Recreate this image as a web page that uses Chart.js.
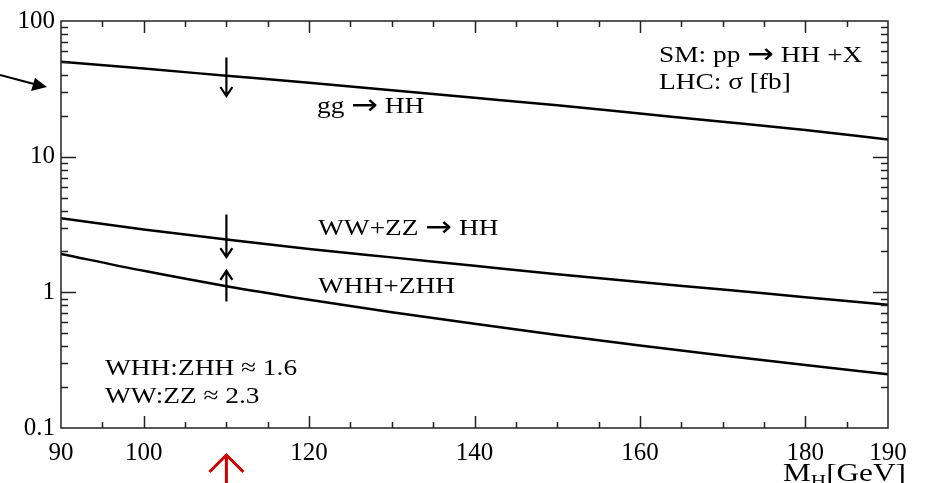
<!DOCTYPE html>
<html>
<head>
<meta charset="utf-8">
<script src="https://cdn.jsdelivr.net/npm/chart.js@4.4.0/dist/chart.umd.min.js"></script>
<style>
  html, body { margin: 0; padding: 0; background: #fff; }
  #wrap { width: 952px; height: 483px; position: relative; }
  canvas { display: block; }
</style>
</head>
<body>
<div id="wrap"><canvas id="c" width="952" height="483"></canvas></div>
<script>
// ---- data ----
const massGeV    = [90, 100, 110, 120, 130, 140, 150, 160, 170, 180, 190];
const ggToHH     = [50.1, 44.6, 39.5, 35.0, 30.9, 27.2, 23.9, 20.8, 18.1, 15.7, 13.4];
const wwZzToHH   = [3.52, 2.90, 2.45, 2.09, 1.81, 1.57, 1.36, 1.19, 1.05, 0.92, 0.81];
const whhZhh     = [1.92, 1.44, 1.11, 0.883, 0.714, 0.586, 0.485, 0.406, 0.342, 0.291, 0.249];
const xTickLabels = [90, 100, 120, 140, 160, 180, 190];
const yTickLabels = [0.1, 1, 10, 100];
const markedMass = 110;
// arrow ends at markedMass (cross-section values)
const ggArrow  = [53.8, 28];
const wwArrow  = [3.74, 1.82];
const whhArrow = [0.855, 1.44];

const SERIF = '"Liberation Serif", "Times New Roman", serif';
const ARROWFONT = '"DejaVu Sans", sans-serif';
const toXY = (ys) => massGeV.map((m, i) => ({ x: m, y: ys[i] }));

// draw a row of text segments, horizontally stretched by sx
function rich(ctx, segs, x, y, size, sx) {
  ctx.save();
  ctx.translate(x, y);
  ctx.scale(sx, 1);
  let cx = 0;
  for (const s of segs) {
    const sz = s.size || size;
    ctx.font = sz + 'px ' + (s.arrow ? ARROWFONT : SERIF);
    ctx.fillText(s.t, cx, s.dy || 0);
    cx += ctx.measureText(s.t).width;
  }
  ctx.restore();
}
const T = (t) => ({ t });
const ARR = { t: '\u2192', arrow: true, size: 28, dy: 1 };

const frame = {
  id: 'frame',
  afterDraw(chart) {
    const { ctx, chartArea: a, scales: { x, y } } = chart;
    ctx.save();
    ctx.strokeStyle = '#222';
    ctx.lineWidth = 1.5;
    ctx.strokeRect(a.left, a.top, a.right - a.left, a.bottom - a.top);
    ctx.beginPath();
    for (let v = 95; v < 190; v += 5) {
      const px = Math.round(x.getPixelForValue(v)) + 0.5;
      const len = (v % 20 === 0) ? 12 : 6;
      ctx.moveTo(px, a.bottom); ctx.lineTo(px, a.bottom - len);
      ctx.moveTo(px, a.top); ctx.lineTo(px, a.top + len);
    }
    for (const d of [0.1, 1, 10]) {
      for (let m = 1; m <= 9; m++) {
        const v = d * m;
        if (v <= 0.1) continue;
        const py = Math.round(y.getPixelForValue(v)) + 0.5;
        const len = (m === 1) ? 15 : 7;
        ctx.moveTo(a.left, py); ctx.lineTo(a.left + len, py);
        ctx.moveTo(a.right, py); ctx.lineTo(a.right - len, py);
      }
    }
    for (let m = 2; m <= 9; m++) {
      const py = Math.round(y.getPixelForValue(10 * m)) + 0.5;
      ctx.moveTo(a.left, py); ctx.lineTo(a.left + 7, py);
      ctx.moveTo(a.right, py); ctx.lineTo(a.right - 7, py);
    }
    ctx.stroke();

    // texts
    ctx.fillStyle = '#000';
    ctx.textBaseline = 'alphabetic';
    ctx.textAlign = 'left';
    const FS = 24, SX = 1.14;
    rich(ctx, [T('SM: pp '), ARR, T(' HH +X')], 659, 62, FS, SX);
    rich(ctx, [T('LHC: \u03C3 [fb]')], 659, 89, FS, SX);
    rich(ctx, [T('gg '), ARR, T(' HH')], 317, 113, FS, SX);
    rich(ctx, [T('WW+ZZ '), ARR, T(' HH')], 318, 235, FS, SX);
    rich(ctx, [T('WHH+ZHH')], 318, 293, FS, SX);
    rich(ctx, [T('WHH:ZHH \u2248 1.6')], 105, 375, FS, SX);
    rich(ctx, [T('WW:ZZ \u2248 2.3')], 105, 403, FS, SX);

    // axis title M_H[GeV]
    rich(ctx, [T('M'), { t: 'H', size: 17, dy: 5 }, T('[GeV]')], 783, 481, 25, 1.25);

    // small arrows at marked mass
    const ax = x.getPixelForValue(markedMass);
    ctx.strokeStyle = '#000';
    ctx.lineWidth = 2.2;
    const vArrow = (x0, yFrom, yTo, head) => {
      ctx.beginPath();
      ctx.moveTo(x0, yFrom); ctx.lineTo(x0, yTo);
      const dir = yTo > yFrom ? 1 : -1;
      ctx.moveTo(x0 - 6, yTo - dir * head); ctx.lineTo(x0, yTo); ctx.lineTo(x0 + 6, yTo - dir * head);
      ctx.stroke();
    };
    vArrow(ax, y.getPixelForValue(ggArrow[0]), y.getPixelForValue(ggArrow[1]), 9);
    vArrow(ax, y.getPixelForValue(wwArrow[0]), y.getPixelForValue(wwArrow[1]), 9);
    vArrow(ax, y.getPixelForValue(whhArrow[0]), y.getPixelForValue(whhArrow[1]), 9);

    // big arrow on the left pointing at the y axis
    ctx.beginPath();
    ctx.moveTo(0, 75); ctx.lineTo(34, 84);
    ctx.lineWidth = 2;
    ctx.stroke();
    ctx.beginPath();
    ctx.moveTo(47, 87); ctx.lineTo(31, 91); ctx.lineTo(35, 78); ctx.closePath();
    ctx.fill();

    // red arrow below the axis
    ctx.strokeStyle = '#d00000';
    ctx.lineWidth = 3;
    ctx.beginPath();
    ctx.moveTo(ax, 483); ctx.lineTo(ax, 455);
    ctx.moveTo(ax - 17, 472); ctx.lineTo(ax, 455); ctx.lineTo(ax + 17, 472);
    ctx.stroke();
    ctx.restore();
  }
};

const lineStyle = { borderColor: '#000', borderWidth: 2.5, pointRadius: 0, fill: false, tension: 0.4, cubicInterpolationMode: 'monotone' };

new Chart(document.getElementById('c'), {
  type: 'line',
  data: {
    datasets: [
      Object.assign({ label: 'gg \u2192 HH', data: toXY(ggToHH) }, lineStyle),
      Object.assign({ label: 'WW+ZZ \u2192 HH', data: toXY(wwZzToHH) }, lineStyle),
      Object.assign({ label: 'WHH+ZHH', data: toXY(whhZhh) }, lineStyle)
    ]
  },
  options: {
    responsive: false,
    animation: false,
    devicePixelRatio: 1,
    layout: { padding: { top: 16, right: 64, left: 0, bottom: 0 } },
    plugins: { legend: { display: false }, tooltip: { enabled: false } },
    scales: {
      x: {
        type: 'linear', min: 90, max: 190, position: 'bottom',
        grid: { display: false, drawTicks: false },
        border: { display: false },
        ticks: { color: '#000', font: { family: SERIF, size: 25 }, padding: 10, maxRotation: 0, autoSkip: false,
                 callback: (v) => String(v) },
        afterBuildTicks: (s) => { s.ticks = xTickLabels.map(v => ({ value: v })); },
        afterFit: (s) => { s.height = 55; }
      },
      y: {
        type: 'logarithmic', min: 0.1, max: 100, position: 'left',
        grid: { display: false, drawTicks: false },
        border: { display: false },
        ticks: { color: '#000', font: { family: SERIF, size: 25 }, padding: 6, autoSkip: false,
                 callback: (v) => String(v) },
        afterBuildTicks: (s) => { s.ticks = yTickLabels.map(v => ({ value: v })); },
        afterFit: (s) => { s.width = 61; }
      }
    }
  },
  plugins: [frame]
});
</script>
</body>
</html>
